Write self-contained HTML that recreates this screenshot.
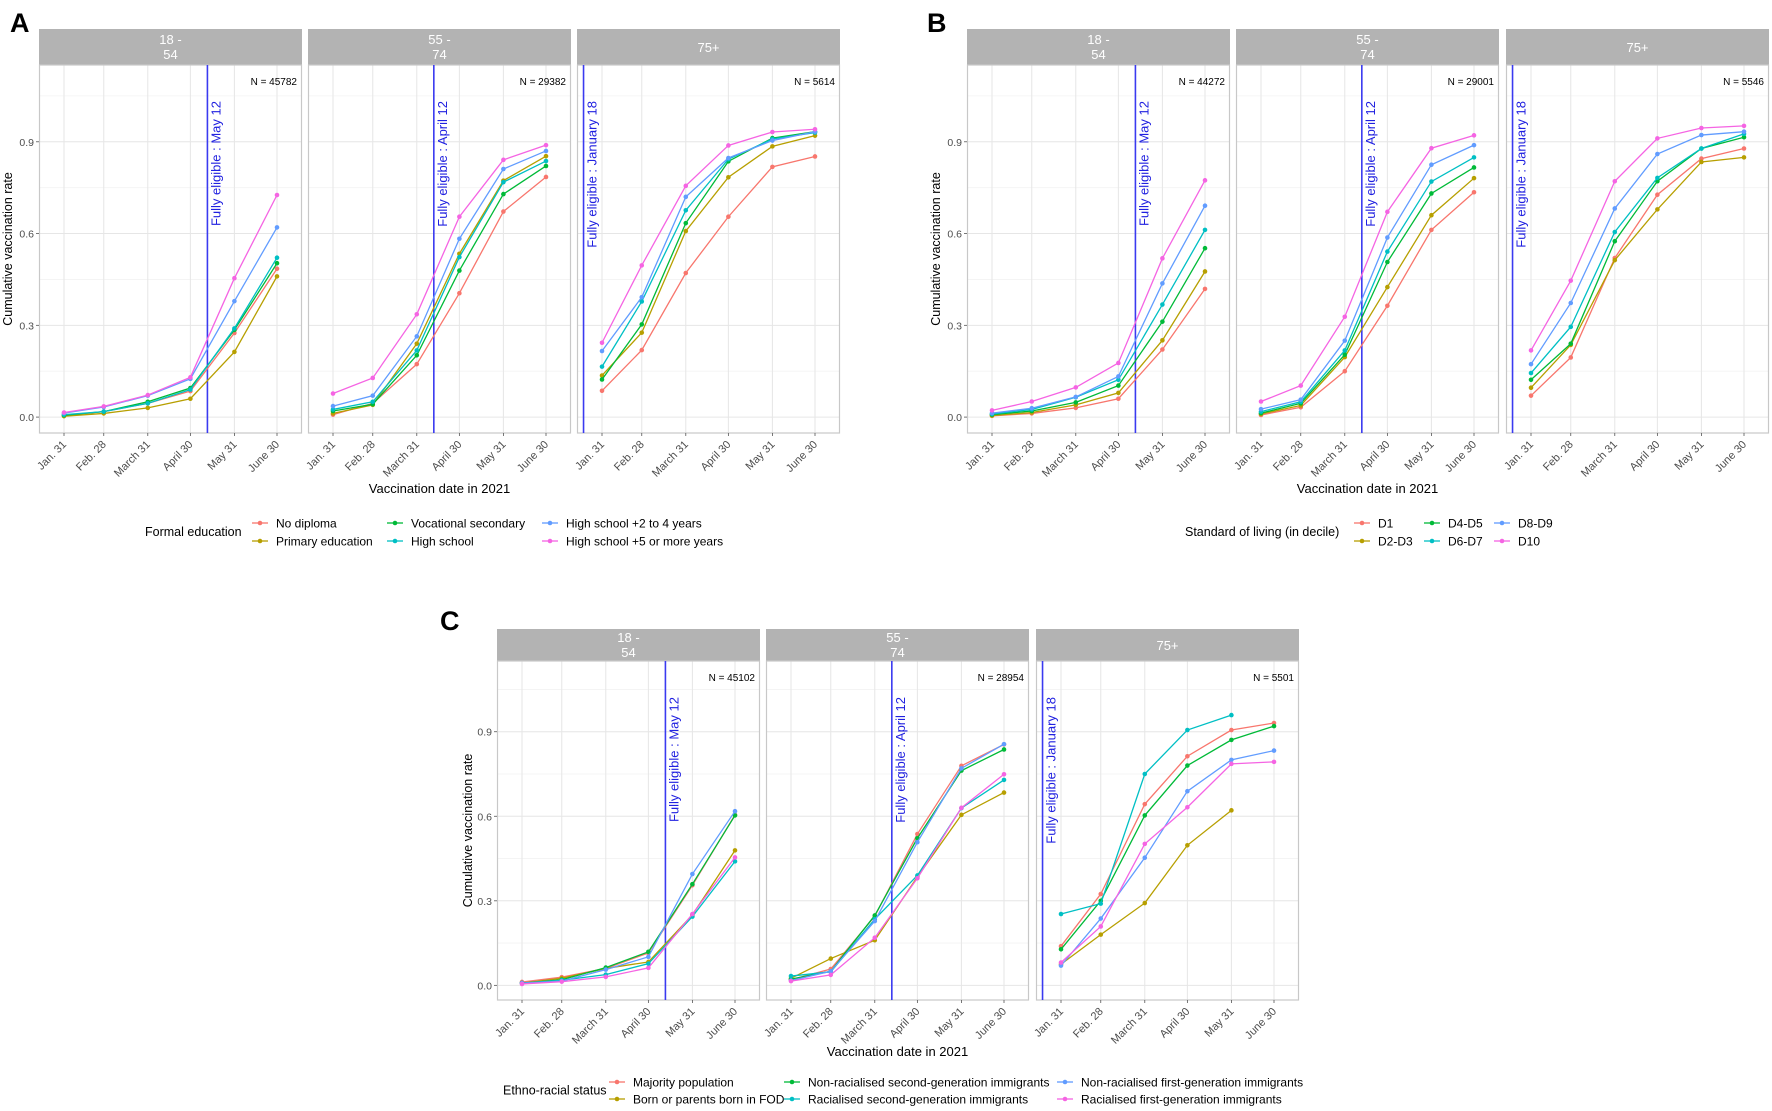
<!DOCTYPE html>
<html><head><meta charset="utf-8"><style>
html,body{margin:0;padding:0;background:#fff;}
svg{display:block;font-family:"Liberation Sans",Arial,sans-serif;}
</style></head><body>
<svg id="fig" width="1772" height="1111" viewBox="0 0 1772 1111" xmlns="http://www.w3.org/2000/svg"></svg>
<script>
// ---------- data ----------
const dates = ["Jan. 31","Feb. 28","March 31","April 30","May 31","June 30"];
const dateDays = [0,28,59,89,120,150];
const ageGroups = ["18 -\n54","55 -\n74","75+"];
const yTicks = [0.0,0.3,0.6,0.9];
const colors = ["#F8766D","#B79F00","#00BA38","#00BFC4","#619CFF","#F564E3"];

const eduNames = ["No diploma","Primary education","Vocational secondary","High school","High school +2 to 4 years","High school +5 or more years"];
const eduN = ["N = 45782","N = 29382","N = 5614"];
const eduYoung = [
 [0.005,0.018,0.045,0.085,0.275,0.485],
 [0.003,0.012,0.030,0.060,0.213,0.460],
 [0.006,0.018,0.050,0.095,0.285,0.503],
 [0.008,0.018,0.045,0.090,0.290,0.521],
 [0.013,0.033,0.070,0.125,0.379,0.620],
 [0.015,0.035,0.072,0.130,0.454,0.726]];
const eduMid = [
 [0.008,0.045,0.173,0.405,0.672,0.785],
 [0.012,0.040,0.240,0.534,0.773,0.853],
 [0.020,0.042,0.202,0.479,0.729,0.821],
 [0.025,0.050,0.218,0.523,0.768,0.837],
 [0.036,0.070,0.264,0.583,0.811,0.870],
 [0.077,0.128,0.336,0.655,0.841,0.889]];
const eduOld = [
 [0.086,0.219,0.471,0.655,0.818,0.852],
 [0.136,0.276,0.608,0.784,0.885,0.920],
 [0.123,0.303,0.634,0.836,0.912,0.933],
 [0.165,0.378,0.676,0.843,0.909,0.930],
 [0.216,0.392,0.720,0.847,0.904,0.933],
 [0.243,0.496,0.756,0.888,0.932,0.941]];

const decNames = ["D1","D2-D3","D4-D5","D6-D7","D8-D9","D10"];
const decN = ["N = 44272","N = 29001","N = 5546"];
const decYoung = [
 [0.004,0.012,0.030,0.060,0.221,0.419],
 [0.005,0.015,0.040,0.079,0.251,0.476],
 [0.008,0.020,0.048,0.103,0.312,0.552],
 [0.010,0.025,0.065,0.122,0.368,0.612],
 [0.013,0.029,0.066,0.133,0.437,0.691],
 [0.022,0.051,0.097,0.177,0.519,0.774]];
const decMid = [
 [0.007,0.032,0.150,0.364,0.612,0.735],
 [0.010,0.038,0.196,0.425,0.660,0.781],
 [0.013,0.045,0.204,0.507,0.731,0.816],
 [0.018,0.050,0.218,0.541,0.770,0.849],
 [0.026,0.057,0.250,0.587,0.825,0.889],
 [0.051,0.103,0.328,0.671,0.879,0.921]];
const decOld = [
 [0.070,0.195,0.520,0.727,0.845,0.878],
 [0.096,0.236,0.513,0.679,0.834,0.849],
 [0.122,0.240,0.575,0.771,0.878,0.915],
 [0.144,0.295,0.605,0.782,0.878,0.926],
 [0.173,0.373,0.682,0.860,0.922,0.933],
 [0.218,0.446,0.771,0.911,0.945,0.952]];

const ethNames = ["Majority population","Born or parents born in FOD","Non-racialised second-generation immigrants","Racialised second-generation immigrants","Non-racialised first-generation immigrants","Racialised first-generation immigrants"];
const ethN = ["N = 45102","N = 28954","N = 5501"];
const ethYoung = [
 [0.012,0.029,0.060,0.115,0.355,0.605],
 [0.008,0.025,0.060,0.083,0.250,0.479],
 [0.008,0.020,0.063,0.119,0.359,0.603],
 [0.008,0.018,0.038,0.077,0.244,0.440],
 [0.008,0.015,0.056,0.101,0.395,0.618],
 [0.005,0.013,0.030,0.062,0.253,0.454]];
const ethMid = [
 [0.020,0.058,0.245,0.537,0.779,0.855],
 [0.025,0.095,0.160,0.385,0.605,0.684],
 [0.022,0.050,0.248,0.522,0.762,0.837],
 [0.033,0.048,0.235,0.390,0.629,0.729],
 [0.017,0.050,0.228,0.508,0.770,0.856],
 [0.015,0.037,0.169,0.380,0.630,0.749]];
const ethOld = [
 [0.139,0.324,0.643,0.813,0.906,0.931],
 [0.075,0.180,0.292,0.497,0.621,null],
 [0.128,0.300,0.603,0.780,0.871,0.920],
 [0.253,0.290,0.750,0.906,0.959,null],
 [0.070,0.237,0.453,0.689,0.800,0.833],
 [0.081,0.209,0.502,0.632,0.786,0.793]];

const eligibleDays = [101,71,-13];
const eligibleLabels = ["Fully eligible : May 12","Fully eligible : April 12","Fully eligible : January 18"];

// ---------- drawing ----------
const NS="http://www.w3.org/2000/svg";
const svg=document.getElementById('fig');
function el(tag,attrs,parent,text){const e=document.createElementNS(NS,tag);for(const k in attrs)e.setAttribute(k,attrs[k]);if(text!==undefined)e.textContent=text;(parent||svg).appendChild(e);return e;}

const Y0=-0.052,Y1=1.151,PW=263;
function makeY(top,bot){return v=>bot-(v-Y0)/(Y1-Y0)*(bot-top);}
function makeX(left){return d=>left+25+d*(213/150);}

function drawFigure(cfg){
  const g=el('g',{});
  
  
  const lab=el('text',{x:cfg.letterX,y:cfg.letterY,'font-size':27,'font-weight':'bold',fill:'#000'},g,cfg.letter);
  
  
  const yS=makeY(cfg.stripBot,cfg.plotBot);
  cfg.lefts.forEach((left,pi)=>{
    const pg=el('g',{},g);
    
    
    const xS=makeX(left);
    const st=el('rect',{x:left,y:cfg.stripTop,width:PW,height:cfg.stripBot-cfg.stripTop,fill:'#b3b3b3'},pg);
    
    
    const lines=ageGroups[pi].split('\n');
    const cy=(cfg.stripTop+cfg.stripBot)/2;
    lines.forEach((ln,li)=>{
      const t=el('text',{x:left+PW/2,y:lines.length===1?cy+5:cy-3+li*15,'font-size':13,fill:'#fff','text-anchor':'middle'},pg,ln);
      
      
    });
    for(let v=0.15;v<1.15;v+=0.3){el('line',{x1:left,x2:left+PW,y1:yS(v),y2:yS(v),stroke:'#f3f3f3','stroke-width':0.8},pg);}
    yTicks.forEach(v=>{el('line',{x1:left,x2:left+PW,y1:yS(v),y2:yS(v),stroke:'#e6e6e6','stroke-width':1},pg);});
    dateDays.forEach(d=>{el('line',{x1:xS(d),x2:xS(d),y1:cfg.stripBot,y2:cfg.plotBot,stroke:'#e6e6e6','stroke-width':1},pg);});
    el('rect',{x:left+0.5,y:cfg.stripBot,width:PW-1,height:cfg.plotBot-cfg.stripBot,fill:'none',stroke:'#c8c8c8','stroke-width':1.2},pg);
    dateDays.forEach((d,i)=>{
      el('line',{x1:xS(d),x2:xS(d),y1:cfg.plotBot,y2:cfg.plotBot+3,stroke:'#555','stroke-width':0.8},pg);
      const tx=xS(d)+3,ty=cfg.plotBot+12;
      const t=el('text',{x:tx,y:ty,'font-size':11,fill:'#4d4d4d','text-anchor':'end',transform:`rotate(-45 ${tx} ${ty})`},pg,dates[i]);
      
      
    });
    if(pi===0){
      yTicks.forEach(v=>{
        el('line',{x1:left-3,x2:left,y1:yS(v),y2:yS(v),stroke:'#555','stroke-width':0.8},pg);
        const t=el('text',{x:left-5,y:yS(v)+4,'font-size':10.5,fill:'#4d4d4d','text-anchor':'end'},pg,v.toFixed(1));
        
        
      });
    }
    const vx=xS(eligibleDays[pi]);
    const vl=el('line',{x1:vx,x2:vx,y1:cfg.stripBot,y2:cfg.plotBot,stroke:'#3a3af0','stroke-width':1.6},pg);
    
    
    const lx=vx+13,ly=cfg.stripBot+36;
    const vt=el('text',{x:lx,y:ly,'font-size':13,fill:'#2020e0','text-anchor':'end',transform:`rotate(-90 ${lx} ${ly})`},pg,eligibleLabels[pi]);
    
    
    const nt=el('text',{x:left+PW-5,y:cfg.stripBot+20,'font-size':10,fill:'#000','text-anchor':'end'},pg,cfg.ns[pi]);
    
    
    const series=cfg.data[pi];
    series.forEach((vals,si)=>{
      const pts=[];
      vals.forEach((v,di)=>{if(v!==null)pts.push([xS(dateDays[di]),yS(v)]);});
      const pl=el('polyline',{points:pts.map(p=>p.join(',')).join(' '),fill:'none',stroke:colors[si],'stroke-width':1.3},pg);
      
      
      pts.forEach(p=>{
        const c=el('circle',{cx:p[0],cy:p[1],r:2.3,fill:colors[si]},pg);
        
        
      });
    });
  });
  const ym=(cfg.stripBot+cfg.plotBot)/2;
  const yt=el('text',{x:cfg.yTitleX,y:ym,'font-size':12.5,fill:'#000','text-anchor':'middle',transform:`rotate(-90 ${cfg.yTitleX} ${ym})`},g,'Cumulative vaccination rate');
  
  
  const xt=el('text',{x:cfg.lefts[1]+PW/2,y:cfg.xTitleY,'font-size':13,fill:'#000','text-anchor':'middle'},g,'Vaccination date in 2021');
  
  
  const lg=el('g',{},g);
  
  
  const ltitle=el('text',{x:cfg.legTitleX,y:(cfg.legRows[0]+cfg.legRows[1])/2+4,'font-size':12.5,fill:'#000'},lg,cfg.legTitle);
  
  
  cfg.names.forEach((nm,i)=>{
    const col=Math.floor(i/2),row=i%2;
    const kx=cfg.legCols[col],ky=cfg.legRows[row];
    const eg=el('g',{},lg);
    
    
    el('line',{x1:kx-8,x2:kx+8,y1:ky,y2:ky,stroke:colors[i],'stroke-width':1.3},eg);
    el('circle',{cx:kx,cy:ky,r:2.3,fill:colors[i]},eg);
    el('text',{x:kx+16,y:ky+4.5,'font-size':cfg.legFont,fill:'#000'},eg,nm);
  });
}

drawFigure({name:'panel-a-formal-education',letter:'A',letterX:10,letterY:32,lefts:[39,308,577],stripTop:29,stripBot:65,plotBot:433,
  data:[eduYoung,eduMid,eduOld],ns:eduN,names:eduNames,yTitleX:12,xTitleY:493,legFont:12,
  legTitle:'Formal education',legTitleX:145,legRows:[523,541],legCols:[260,395,550]});
drawFigure({name:'panel-b-standard-of-living',letter:'B',letterX:927,letterY:32,lefts:[967,1236,1506],stripTop:29,stripBot:65,plotBot:433,
  data:[decYoung,decMid,decOld],ns:decN,names:decNames,yTitleX:940,xTitleY:493,legFont:12,
  legTitle:'Standard of living (in decile)',legTitleX:1185,legRows:[523,541],legCols:[1362,1432,1502]});
drawFigure({name:'panel-c-ethno-racial-status',letter:'C',letterX:440,letterY:630,lefts:[497,766,1036],stripTop:629,stripBot:661,plotBot:1000,
  data:[ethYoung,ethMid,ethOld],ns:ethN,names:ethNames,yTitleX:472,xTitleY:1056,legFont:12,
  legTitle:'Ethno-racial status',legTitleX:503,legRows:[1082,1099],legCols:[617,792,1065]});
</script>
</body></html>
